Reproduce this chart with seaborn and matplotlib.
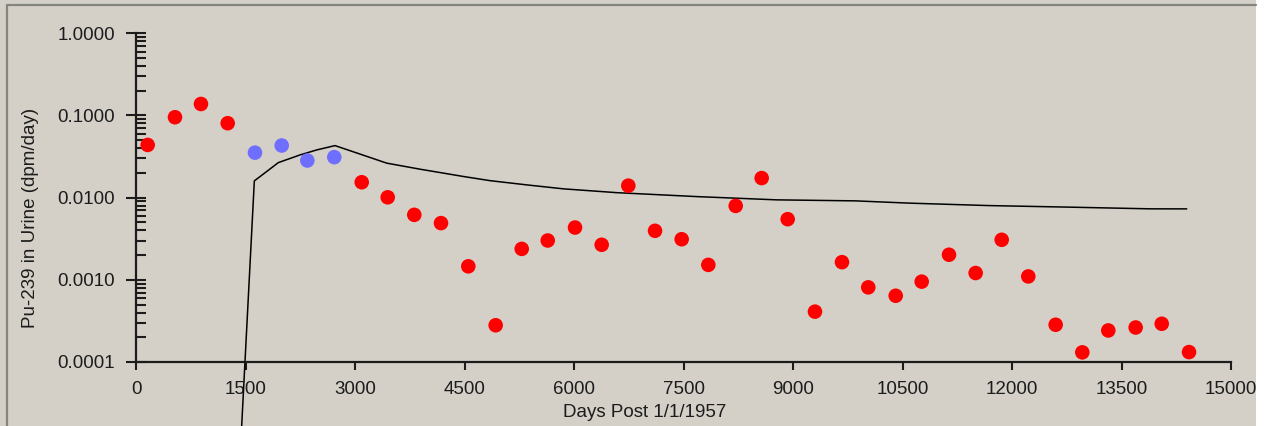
import matplotlib
matplotlib.use("Agg")
import matplotlib.pyplot as plt
import seaborn as sns
import numpy as np
import pandas as pd
from matplotlib.lines import Line2D
from matplotlib.patches import Rectangle
from matplotlib.ticker import LogLocator, FixedLocator, NullFormatter

# measured bioassay points (days post 1/1/1957, dpm/day)
red_days = [160, 534, 890, 1256, 3092, 3448, 3812, 4178, 4552, 4927, 5284,
            5640, 6014, 6379, 6744, 7110, 7475, 7840, 8215, 8571, 8927, 9301,
            9671, 10031, 10407, 10763, 11137, 11502, 11859, 12223, 12598,
            12963, 13319, 13694, 14051, 14425]
red_vals = [0.0438, 0.0952, 0.138, 0.0805, 0.0154, 0.0101, 0.00618, 0.0049,
            0.00146, 0.00028, 0.00238, 0.00301, 0.00433, 0.00267, 0.0140,
            0.00395, 0.00312, 0.00152, 0.00794, 0.0173, 0.00547, 0.00041,
            0.00164, 0.00081, 0.00064, 0.00095, 0.00202, 0.00121, 0.00307,
            0.0011, 0.000284, 0.000131, 0.000242, 0.000263, 0.000292, 0.000132]

blue_days = [1630, 1996, 2347, 2716]
blue_vals = [0.0353, 0.0431, 0.0283, 0.0311]

# model prediction curve
model_days = [1430, 1621, 1790, 1950, 2247, 2476, 2726, 3435, 3891, 4484,
              4850, 5353, 5854, 6586, 7682, 8778, 9850, 10604, 11677, 12796,
              13892, 14394]
model_vals = [8.3e-6, 0.016, 0.0208, 0.0267, 0.0331, 0.0381, 0.0430, 0.0263,
              0.0222, 0.0181, 0.0161, 0.0143, 0.0128, 0.0115, 0.0103, 0.0094,
              0.00914, 0.00857, 0.00801, 0.00766, 0.00731, 0.0073]

x_ticks = [0, 1500, 3000, 4500, 6000, 7500, 9000, 10500, 12000, 13500, 15000]
y_ticks = [0.0001, 0.001, 0.01, 0.1, 1.0]
y_ticklabels = ["0.0001", "0.0010", "0.0100", "0.1000", "1.0000"]

bg = "#D4D0C8"
ink = "#1c1c1c"

sns.set_style("ticks")
plt.rcParams["font.family"] = ["Liberation Sans", "DejaVu Sans"]
plt.rcParams["font.size"] = 13.5

fig = plt.figure(figsize=(12.65, 4.26), dpi=100, facecolor=bg)
W, H = 1265, 426
ax = fig.add_axes([136 / W, (H - 362) / H, (1231 - 136) / W, (362 - 33.3) / H])
ax.set_facecolor(bg)
ax.patch.set_visible(False)

sns.lineplot(x=model_days, y=model_vals, ax=ax, color="black", linewidth=1.1,
             clip_on=False, zorder=2)
sns.scatterplot(x=red_days, y=red_vals, ax=ax, color="#FF0000", s=110,
                edgecolor="none", zorder=3)
sns.scatterplot(x=blue_days, y=blue_vals, ax=ax, color="#6E6EFF", s=110,
                edgecolor="none", zorder=3)

ax.set_yscale("log")
ax.set_xlim(0, 15000)
ax.set_ylim(1e-4, 1.0)

ax.xaxis.set_major_locator(FixedLocator(x_ticks))
ax.set_xticklabels([str(t) for t in x_ticks])
ax.yaxis.set_major_locator(FixedLocator(y_ticks))
ax.set_yticklabels(y_ticklabels)
ax.yaxis.set_minor_locator(LogLocator(base=10, subs=np.arange(2, 10)))
ax.yaxis.set_minor_formatter(NullFormatter())

for s in ["top", "right"]:
    ax.spines[s].set_visible(False)
for s in ["left", "bottom"]:
    ax.spines[s].set_linewidth(1.6)
    ax.spines[s].set_color(ink)

ax.tick_params(axis="x", which="major", direction="out", length=6, width=1.5,
               color=ink, labelcolor=ink, pad=8)
ax.tick_params(axis="y", which="major", direction="inout", length=15, width=1.5,
               color=ink, labelcolor=ink, pad=7.5)
ax.tick_params(axis="y", which="minor", direction="in", length=7, width=1.5,
               color=ink)

ax.set_xlabel("Days Post 1/1/1957", color=ink)
ax.set_ylabel("Pu-239 in Urine (dpm/day)", color=ink)
ax.xaxis.set_label_coords(0.465, -0.128)
ax.yaxis.set_label_coords(-0.089, 0.438)

# window frame around the chart control
fig.add_artist(Rectangle((1256 / W, 0), 9 / W, 1, transform=fig.transFigure,
                         facecolor="white", edgecolor="none"))
fig.add_artist(Line2D([6.5 / W, 1256 / W], [1 - 4.5 / H, 1 - 4.5 / H],
                      transform=fig.transFigure, color="#858580", linewidth=1.6))
fig.add_artist(Line2D([6.5 / W, 6.5 / W], [0, 1 - 4.5 / H],
                      transform=fig.transFigure, color="#858580", linewidth=1.6))

fig.savefig("out.png", dpi=100, facecolor=bg)
